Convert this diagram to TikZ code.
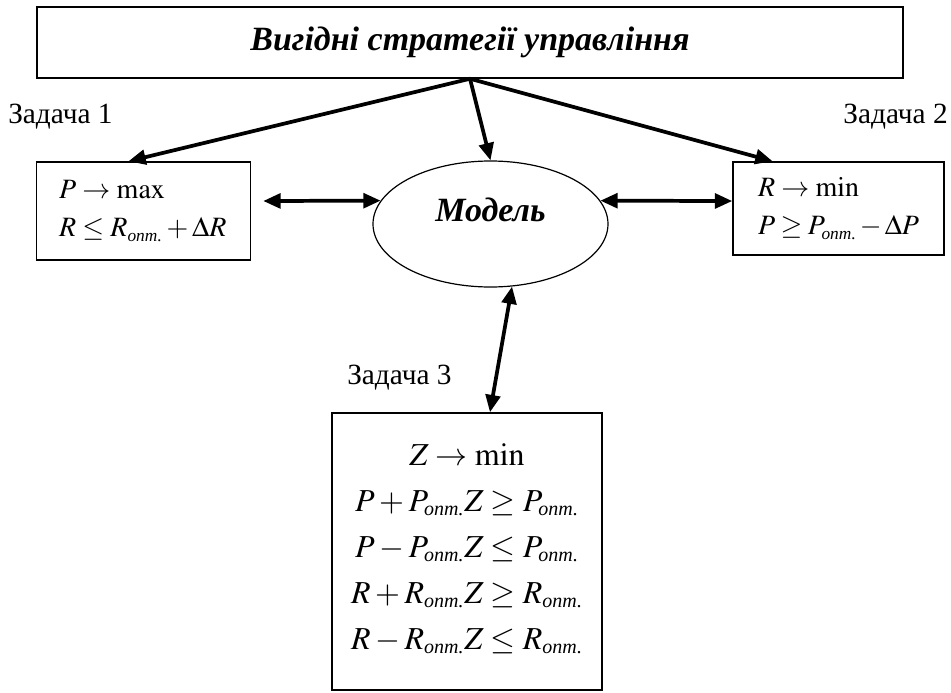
\documentclass[tikz,border=0pt]{standalone}
\usepackage{amsmath}
\usepackage{mathptmx}
\usepackage{fontspec}
\setmainfont{Liberation Serif}
\usetikzlibrary{arrows.meta,shapes.geometric,calc}

\newcommand{\optsize}{15}
\newcommand{\opt}{\mbox{\fontsize{\optsize}{\optsize}\selectfont\itshape опт.}}

\begin{document}
\begin{tikzpicture}[
        x=0.75pt, y=-0.75pt,
        box/.style={draw, line width=1.1pt},
        arr/.style={line width=2.8pt, -{Triangle[length=13pt,width=11pt]}},
        dbl/.style={line width=2.8pt, {Triangle[length=13pt,width=11pt]}-{Triangle[length=13pt,width=11pt]}},
        task/.style={font=\fontsize{22}{26}\selectfont, inner sep=0pt}
    ]
    \useasboundingbox (0,0) rectangle (951,693);
    \node[box, minimum width=649.5pt, minimum height=53.25pt,
          font=\fontsize{25.5}{30}\selectfont\bfseries\itshape] (goal) at (470,42.5) {Вигідні стратегії управління};
    \node[box, inner xsep=17pt, text width=126.5pt, minimum height=73.5pt, align=left,
          font=\fontsize{21}{28.5}\selectfont\renewcommand{\optsize}{13}] (task1) at (143.5,211)
          {$P \to \max$\\ $R \le R_{\opt} + \Delta R$};
    \node[box, inner xsep=18.75pt, text width=120.75pt, minimum height=69.75pt, align=left,
          font=\fontsize{21}{28.5}\selectfont\renewcommand{\optsize}{13}] (task2) at (838.5,208.5)
          {$R \to \min$\\ $P \ge P_{\opt} - \Delta P$};
    \node[draw, ellipse, line width=0.9pt, minimum width=176.25pt, minimum height=94.5pt,
          font=\fontsize{25.5}{30}\selectfont\bfseries\itshape] (model) at (490.5,224) {Модель\rule[-22pt]{0pt}{0pt}};
    \node[box, minimum width=202.5pt, minimum height=207.75pt, align=center,
          font=\fontsize{24}{34.5}\selectfont] (task3) at (467,551.5)
          {$Z \to \min$\\ $P + P_{\opt} Z \ge P_{\opt}$\\ $P - P_{\opt} Z \le P_{\opt}$\\
           $R + R_{\opt} Z \ge R_{\opt}$\\ $R - R_{\opt} Z \le R_{\opt}$\rule[-8pt]{0pt}{0pt}};
    \node[task, anchor=west] (lab1) at (8,117) {Задача 1};
    \node[task, anchor=east] (lab2) at (948,117) {Задача 2};
    \node[task, anchor=west] (lab3) at (347,378) {Задача 3};
    \draw[arr] (goal.south) -- ($(task1.north west)!0.43!(task1.north east)$);
    \draw[arr] (goal.south) -- (model.north);
    \draw[arr] (goal.south) -- ($(task2.north west)!0.19!(task2.north east)$);
    \draw[dbl] ([shift={(9pt,7.5pt)}]task1.east) -- (model.168);
    \draw[dbl] (model.12) -- ([yshift=5.6pt]task2.west);
    \draw[dbl] (model.-71) -- ([xshift=17.25pt]task3.north);
\end{tikzpicture}
\end{document}
